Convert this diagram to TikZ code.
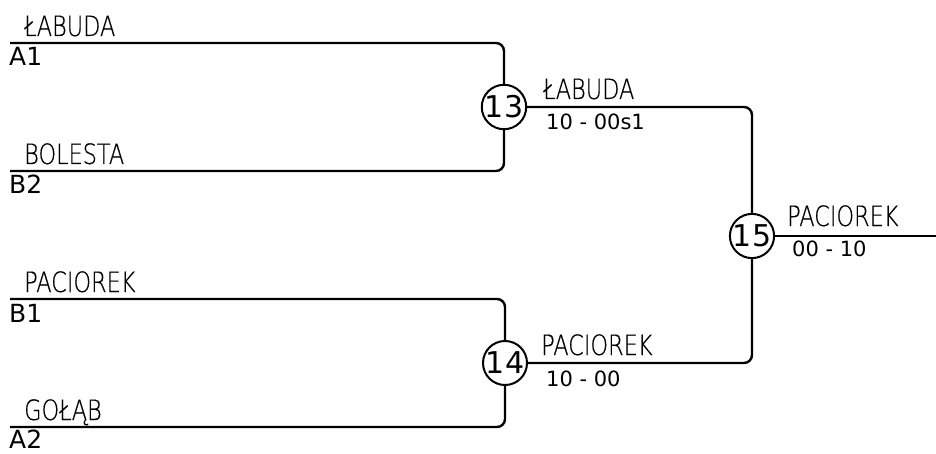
\documentclass[tikz,border=0pt]{standalone}
\usepackage{fontspec}
\setmainfont{DejaVu Sans}
\newfontfamily\namefont[FakeStretch=0.8,FakeBold=0.4]{DejaVu Sans ExtraLight}
\usetikzlibrary{positioning}

\tikzset{
  bracket/.style={line width=2.4pt, rounded corners=8pt},
  match/.style={circle, draw, line width=2pt, minimum size=39pt, inner sep=0pt,
    font=\fontsize{30}{30}\selectfont},
  player/.style={anchor=base west, inner sep=0pt, font=\namefont\fontsize{28}{28}\selectfont},
  seed/.style={anchor=base west, inner sep=0pt, font=\fontsize{25}{25}\selectfont},
  score/.style={anchor=base west, inner sep=0pt, font=\fontsize{21}{21}\selectfont}
}

\begin{document}
\begin{tikzpicture}[x=1pt,y=-1pt]
\useasboundingbox (0,0) rectangle (936,454);
% first round
\coordinate (a1) at (10,43);
\coordinate (b2) at (10,171);
\coordinate (b1) at (10,299);
\coordinate (a2) at (10,427);
\node[match] (m13) at (504,107) {13};
\node[match] (m14) at (505,363) {14};
\node[match] (m15) at (752,236) {15};
\coordinate (out) at (936,236);
\draw[bracket] (a1) -- (a1 -| m13) -- (m13.north);
\draw[bracket] (b2) -- (b2 -| m13) -- (m13.south);
\draw[bracket] (b1) -- (b1 -| m14) -- (m14.north);
\draw[bracket] (a2) -- (a2 -| m14) -- (m14.south);
% second round
\draw[bracket] (m13.east) -- (m13 -| m15) -- (m15.north);
\draw[bracket] (m14.east) -- (m14 -| m15) -- (m15.south);
\draw[bracket] (m15.east) -- (out);
% names and seeds
\node[player] (n1) at (24,36) {ŁABUDA};
\node[seed] (s1) at (9,66) {A1};
\node[player] (n2) at (24,164) {BOLESTA};
\node[seed] (s2) at (9,194) {B2};
\node[player] (n3) at (24,292) {PACIOREK};
\node[seed] (s3) at (9,322) {B1};
\node[player] (n4) at (24,420) {GOŁĄB};
\node[seed] (s4) at (9,448) {A2};
% winners and scores
\node[player] (w13) at (543,99) {ŁABUDA};
\node[score] (r13) at (546,130) {10 - 00s1};
\node[player] (w14) at (541,355) {PACIOREK};
\node[score] (r14) at (546,386) {10 - 00};
\node[player] (w15) at (787,226) {PACIOREK};
\node[score] (r15) at (792,256) {00 - 10};
\end{tikzpicture}
\end{document}
